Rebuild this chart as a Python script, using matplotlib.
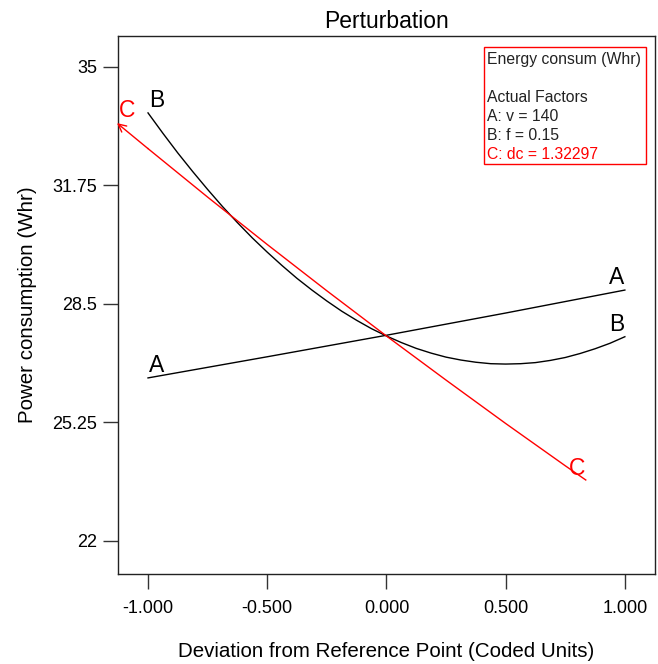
import matplotlib.pyplot as plt

plt.rcParams['font.family'] = ['Liberation Sans', 'DejaVu Sans']

# perturbation curves (coded units -> Whr)
xa = [-1.0, -0.5, 0.0, 0.5, 1.0]
ya = [26.47, 27.05, 27.64, 28.25, 28.88]

xb = [-1.0, -0.9375, -0.875, -0.8125, -0.75, -0.6875, -0.625, -0.5625,
      -0.5, -0.4375, -0.375, -0.3125, -0.25, -0.1875, -0.125, -0.0625,
      0.0, 0.0625, 0.125, 0.1875, 0.25, 0.3125, 0.375, 0.4375,
      0.5, 0.5625, 0.625, 0.6875, 0.75, 0.8125, 0.875, 0.9375, 1.0]
yb = [33.74, 33.18, 32.64, 32.13, 31.64, 31.17, 30.73, 30.31,
      29.92, 29.55, 29.20, 28.88, 28.58, 28.30, 28.05, 27.82,
      27.62, 27.44, 27.28, 27.15, 27.04, 26.96, 26.90, 26.86,
      26.85, 26.86, 26.89, 26.95, 27.03, 27.14, 27.27, 27.42, 27.60]

xc = [-1.13, -1.0, -0.75, -0.5, -0.25, 0.0, 0.25, 0.5, 0.75, 0.836]
yc = [33.46, 32.76, 31.43, 30.13, 28.86, 27.62, 26.41, 25.22, 24.06, 23.67]

xticks = [-1.0, -0.5, 0.0, 0.5, 1.0]
xtick_labels = ['-1.000', '-0.500', '0.000', '0.500', '1.000']
yticks = [22, 25.25, 28.5, 31.75, 35]
ytick_labels = ['22', '25.25', '28.5', '31.75', '35']

legend_lines = ['Energy consum (Whr)', '', 'Actual Factors',
                'A: v = 140', 'B: f = 0.15', 'C: dc = 1.32297']

fig = plt.figure(figsize=(6.58, 6.64), dpi=100)
ax = fig.add_axes([0.1793, 0.1355, 0.816, 0.8103])

ax.plot(xa, ya, color='black', lw=1)
ax.plot(xb, yb, color='black', lw=1)
ax.plot(xc[1:], yc[1:], color='red', lw=1)
# arrow head at the low end of C
ax.annotate('', xy=(xc[0], yc[0]), xytext=(xc[1], yc[1]),
            annotation_clip=False,
            arrowprops=dict(arrowstyle='->', color='red', lw=1,
                            shrinkA=0, shrinkB=0, mutation_scale=14))

lbl = dict(fontsize=16.5, ha='center', va='bottom')
ax.text(xa[0] + 0.035, ya[0] + 0.03, 'A', color='black', **lbl)
ax.text(xa[-1] - 0.035, ya[-1] + 0.03, 'A', color='black', **lbl)
ax.text(xb[0] + 0.035, yb[0] + 0.03, 'B', color='black', **lbl)
ax.text(xb[-1] - 0.035, yb[-1] + 0.03, 'B', color='black', **lbl)
ax.text(xc[0] + 0.04, yc[0] + 0.03, 'C', color='red', **lbl)
ax.text(xc[-1] - 0.035, yc[-1] + 0.0, 'C', color='red', **lbl)

ax.set_xlim(-1.126, 1.126)
ax.set_ylim(21.09, 35.85)
ax.set_xticks(xticks)
ax.set_xticklabels(xtick_labels)
ax.set_yticks(yticks)
ax.set_yticklabels(ytick_labels)
ax.tick_params(direction='out', length=11, width=1, color='#333333',
               labelsize=13)
ax.tick_params(axis='y', pad=4)
ax.tick_params(axis='x', pad=8)
for s in ax.spines.values():
    s.set_color('#222222')
    s.set_linewidth(1)

ax.set_title('Perturbation', fontsize=16.5, pad=6)
ax.set_xlabel('Deviation from Reference Point (Coded Units)', fontsize=14.8, labelpad=18)
ax.set_ylabel('Power consumption (Whr)', fontsize=14.8, labelpad=11)

# factor box, top right
box = plt.Rectangle((0.6816, 0.762), 0.3017, 0.2175, transform=ax.transAxes,
                    fill=False, edgecolor='red', lw=1)
ax.add_patch(box)
for i, t in enumerate(legend_lines):
    ax.text(0.687, 0.957 - i * 0.0353, t, transform=ax.transAxes,
            fontsize=11.3, va='center', ha='left',
            color='red' if t.startswith('C') else '#222222')

fig.savefig('out.png', dpi=100)
